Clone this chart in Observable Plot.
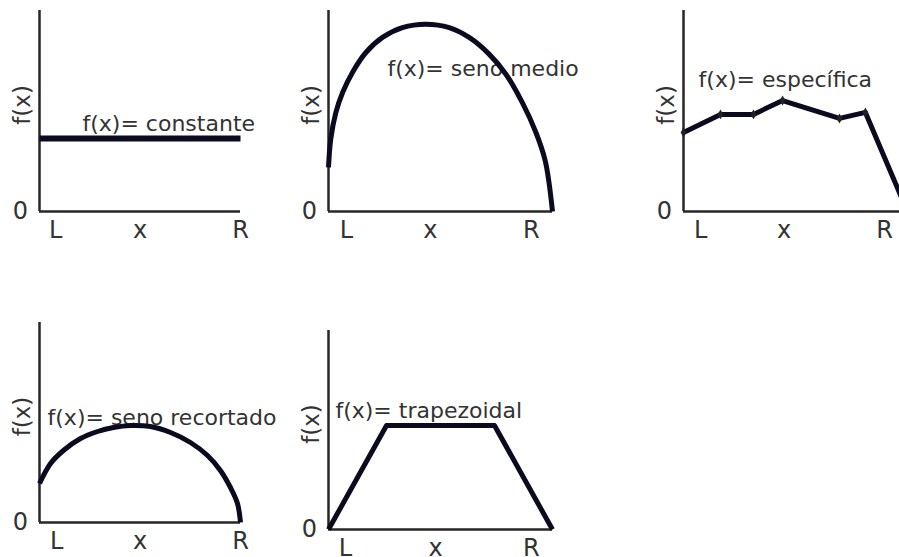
<!DOCTYPE html>
<html>
<head>
<meta charset="utf-8">
<script src="https://cdn.jsdelivr.net/npm/d3@7"></script>
<script src="https://cdn.jsdelivr.net/npm/@observablehq/plot@0.6"></script>
<style>
  html, body { margin: 0; padding: 0; background: #fff; overflow: hidden; }
  #chart { position: relative; width: 899px; height: 557px; }
  #chart > svg { position: absolute; }
</style>
</head>
<body>
<div id="chart"></div>
<script>
// Position along the bar: 0 = L, 1 = R. f(x) is in units of the axis height.
const tickNames = ["L", "x", "R"];
const yAxisName = "f(x)";
const zeroName = "0";

const constanteX = [0, 1];
const constanteF = [0.363, 0.363];

const senoMedioX = [0, 0.010, 0.033, 0.063, 0.107, 0.167, 0.241, 0.330, 0.434, 0.539, 0.628, 0.717, 0.792, 0.866, 0.926, 0.968, 1.0];
const senoMedioF = [0.219, 0.360, 0.493, 0.592, 0.692, 0.791, 0.866, 0.915, 0.932, 0.915, 0.866, 0.783, 0.683, 0.540, 0.393, 0.250, 0.0];

const especificaX = [0, 0.184, 0.348, 0.493, 0.776, 0.905, 1.114];
const especificaF = [0.393, 0.483, 0.483, 0.552, 0.463, 0.493, 0.0];

const senoRecortadoX = [0, 0.055, 0.119, 0.204, 0.289, 0.368, 0.453, 0.552, 0.652, 0.751, 0.836, 0.900, 0.950, 0.985, 1.0];
const senoRecortadoF = [0.195, 0.295, 0.360, 0.420, 0.455, 0.475, 0.485, 0.480, 0.450, 0.400, 0.335, 0.260, 0.175, 0.095, 0.0];

const trapezoidalX = [0, 0.259, 0.741, 1];
const trapezoidalF = [0, 0.523, 0.523, 0];

const titles = ["f(x)= constante", "f(x)= seno medio", "f(x)= específica", "f(x)= seno recortado", "f(x)= trapezoidal"];

// Placement of each small plot on the page
const layout = [
  {left: 0,   top: 0,   width: 290, height: 260, mt: 10, mb: 49, ml: 39, mr: 50, xEnd: 1,   ticks: [0.08, 0.5, 1.0],    title: [0.214, 0.438], X: constanteX,     F: constanteF,     curve: "linear"},
  {left: 290, top: 0,   width: 300, height: 260, mt: 10, mb: 49, ml: 38, mr: 38, xEnd: 1,   ticks: [0.08, 0.455, 0.906], title: [0.263, 0.711], X: senoMedioX,     F: senoMedioF,     curve: "catmull-rom"},
  {left: 600, top: 0,   width: 299, height: 260, mt: 10, mb: 49, ml: 83, mr: 15, xEnd: 1.2, ticks: [0.085, 0.5, 1.0],   title: [0.075, 0.652], X: especificaX,    F: especificaF,    curve: "linear", markers: true},
  {left: 0,   top: 300, width: 290, height: 257, mt: 22, mb: 35, ml: 39, mr: 50, xEnd: 1,   ticks: [0.085, 0.5, 1.0],   title: [0.04, 0.525],  X: senoRecortadoX, F: senoRecortadoF, curve: "catmull-rom"},
  {left: 290, top: 300, width: 300, height: 257, mt: 30, mb: 28, ml: 38, mr: 38, xEnd: 1,   ticks: [0.076, 0.478, 0.906], title: [0.031, 0.598], X: trapezoidalX,  F: trapezoidalF,   curve: "linear"}
];

const ink = "#0b0b20";
const axisInk = "#262626";
const textInk = "#333333";
const chart = document.getElementById("chart");

layout.forEach((p, k) => {
  const table = p.X.map((x, i) => ({x, f: p.F[i]}));
  const marks = [
    Plot.ruleY([0], {x1: 0, x2: p.xEnd, stroke: axisInk, strokeWidth: 2.5}),
    Plot.ruleX([0], {y1: 0, y2: 1, stroke: axisInk, strokeWidth: 2.5}),
    Plot.text([zeroName], {x: 0, y: 0, dx: -19, fontSize: 24, fill: textInk}),
    Plot.text(tickNames, {x: (d, i) => p.ticks[i], y: 0, dy: 19, fontSize: 24, fill: textInk}),
    Plot.text([yAxisName], {x: 0, y: 0.53, dx: -17, rotate: -90, fontSize: 23, fill: textInk}),
    Plot.text([titles[k]], {x: p.title[0], y: p.title[1], textAnchor: "start", fill: textInk}),
    Plot.line(table, {x: "x", y: "f", curve: p.curve, stroke: ink, strokeWidth: k === 0 ? 6 : 5, strokeLinecap: "butt", strokeLinejoin: "round"})
  ];
  if (p.markers) {
    marks.push(Plot.dot(table, {x: "x", y: "f", r: 3, symbol: "diamond", fill: "#222", stroke: "none"}));
  }
  const svg = Plot.plot({
    width: p.width,
    height: p.height,
    marginTop: p.mt,
    marginBottom: p.mb,
    marginLeft: p.ml,
    marginRight: p.mr,
    x: {domain: [0, 1], axis: null},
    y: {domain: [0, 1], axis: null},
    style: {fontFamily: "'DejaVu Sans', Verdana, sans-serif", fontSize: "22px", background: "transparent", overflow: "hidden"},
    marks
  });
  svg.style.left = p.left + "px";
  svg.style.top = p.top + "px";
  svg.style.maxWidth = "none";
  chart.appendChild(svg);
});
</script>
</body>
</html>
